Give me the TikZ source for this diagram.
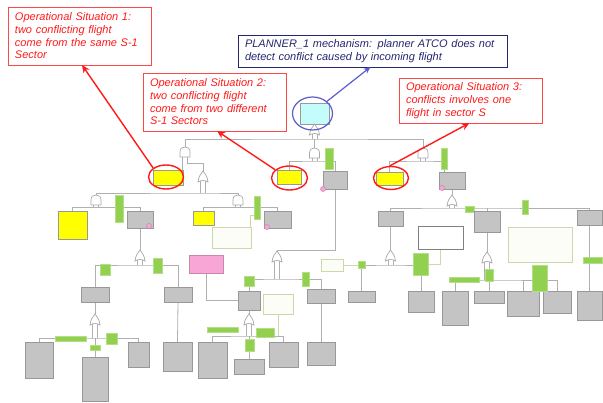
\documentclass[tikz,border=0pt]{standalone}
\usepackage{fontspec}
\setmainfont{Liberation Sans}
\usetikzlibrary{arrows.meta,shapes.geometric}
\pgfdeclarelayer{bg}
\pgfsetlayers{bg,main}
\definecolor{linec}{HTML}{B0B0B0}
\definecolor{gatec}{HTML}{A8A8A8}
\definecolor{gfill}{HTML}{C4C4C4}
\definecolor{gdraw}{HTML}{989898}
\definecolor{yfill}{HTML}{FFFF00}
\definecolor{grfill}{HTML}{92D050}
\definecolor{grdraw}{HTML}{B4DE88}
\definecolor{nfill}{HTML}{FCFDF7}
\definecolor{ndraw}{HTML}{CBD7AC}
\definecolor{pfill}{HTML}{F8A6D6}
\definecolor{pdraw}{HTML}{C987AE}
\definecolor{cfill}{HTML}{C4FCFC}
\definecolor{osred}{HTML}{FF1A1A}
\definecolor{navy}{HTML}{262670}
\definecolor{bluel}{HTML}{5C5CD0}
\newcommand\bx[6]{\node[#2, minimum width={#5-#3}, minimum height={#6-#4}] (#1) at ({(#3+#5)/2},{(#4+#6)/2}) {};}
\begin{document}
\begin{tikzpicture}[x=1pt,y=-1pt,
 ln/.style={draw=linec, line width=0.8pt},
 nln/.style={draw=ndraw, line width=0.8pt},
 basebox/.style={rectangle, inner sep=0pt, outer sep=0pt, line width=0.6pt},
 gbox/.style={basebox, draw=gdraw, fill=gfill},
 ybox/.style={basebox, draw=gdraw, fill=yfill},
 grbox/.style={basebox, draw=grdraw, fill=grfill},
 nbox/.style={basebox, draw=ndraw, fill=nfill},
 nboxd/.style={basebox, draw=gray, fill=white},
 pbox/.style={basebox, draw=pdraw, fill=pfill},
 cbox/.style={basebox, draw=gdraw, fill=cfill},
 pdot/.style={circle, inner sep=0pt, minimum size=5pt, draw=pdraw, fill=pfill, line width=0.5pt},
 redell/.style={ellipse, draw=osred, line width=1.4pt, inner sep=0pt},
 blueell/.style={ellipse, draw=bluel, line width=1.2pt, inner sep=0pt},
 osbox/.style={rectangle, draw=osred!80, line width=0.9pt, text=osred, font=\fontsize{11}{12.7}\selectfont\itshape, align=left, inner xsep=7pt, inner ysep=0pt, outer sep=0pt},
 plbox/.style={osbox, draw=navy, text=navy},
 redarr/.style={draw=osred, line width=1.4pt, -{Stealth[length=8pt,width=7pt]}},
 bluearr/.style={draw=bluel, line width=1.2pt, -{Stealth[length=7pt,width=6pt]}},
 gatepath/.style={draw=gatec, fill=white, line width=0.7pt},
 andg/.pic={
   \path[gatepath] (-5,5) -- (-5,0) .. controls (-5,-3.5) and (-2.8,-5) .. (0,-5) .. controls (2.8,-5) and (5,-3.5) .. (5,0) -- (5,5) -- cycle;
   \coordinate (-top) at (0,-5); \coordinate (-l) at (-2.5,5); \coordinate (-r) at (2.5,5);},
 org/.pic={
   \path[gatepath] (-5,5) .. controls (-4.5,0) and (-2.5,-3) .. (0,-6) .. controls (2.5,-3) and (4.5,0) .. (5,5) .. controls (2,3) and (-2,3) .. (-5,5) -- cycle;
   \coordinate (-top) at (0,-6); \coordinate (-l) at (-2.5,4); \coordinate (-r) at (2.5,4);}
]
\useasboundingbox (0,0) rectangle (603,403);

% annotation boxes
\node[osbox, text width=129, minimum height=58] (OS1) at (79.5,36) {Operational Situation 1:\\two conflicting flight\\come from the same S-1\\Sector};
\node[osbox, text width=129, minimum height=58] (OS2) at (214.5,102) {Operational Situation 2:\\two conflicting flight\\come from two different\\S-1 Sectors};
\node[osbox, text width=129, minimum height=45] (OS3) at (470.5,100.5) {Operational Situation 3:\\conflicts involves one\\flight in sector S};
\node[plbox, text width=255, minimum height=32] (PL) at (372.5,51) {PLANNER\_1 mechanism: planner ATCO does not\\detect conflict caused by incoming flight};

% events
\bx{T}{cbox}{300}{103}{329}{124}
\bx{Y1}{ybox}{153}{170}{183}{185}
\bx{Y2}{ybox}{58}{211}{87}{239}
\bx{B1}{gbox}{127}{211}{153}{228}
\bx{GR1}{grbox}{115}{195}{123}{222}
\bx{Y3}{ybox}{193}{211}{214}{225}
\bx{B2}{gbox}{264}{211}{291}{228}
\bx{GR2}{grbox}{254}{196}{260}{219}
\bx{N1}{nbox}{212}{227}{251}{248}
\bx{Y4}{ybox}{277}{170}{301}{184}
\bx{B3}{gbox}{323}{171}{347}{189}
\bx{GR3}{grbox}{325}{148}{333}{169}
\bx{Y5}{ybox}{376}{172}{403}{185}
\bx{B4}{gbox}{439}{172}{465}{189}
\bx{GR4}{grbox}{441}{148}{447}{169}
\bx{B5}{gbox}{378}{211}{403}{226}
\bx{GR5}{grbox}{465}{206}{474}{212}
\bx{B6}{gbox}{474}{211}{500}{232}
\bx{GR6}{grbox}{522}{200}{528}{214}
\bx{B7}{gbox}{577}{210}{602}{225}
\bx{N2}{nboxd}{418}{226}{463}{249}
\bx{N3}{nbox}{508}{227}{572}{262}
\bx{B8}{gbox}{81}{287}{109}{302}
\bx{B9}{gbox}{164}{287}{192}{302}
\bx{B10}{gbox}{163}{342}{192}{371}
\bx{GR7}{grbox}{100}{264}{110}{275}
\bx{GR8}{grbox}{153}{258}{162}{273}
\bx{B11}{gbox}{25}{342}{53}{378}
\bx{B12}{gbox}{82}{357}{108}{401}
\bx{B13}{gbox}{128}{342}{149}{367}
\bx{GR9}{grbox}{55}{336}{86}{341}
\bx{GR10}{grbox}{90}{345}{100}{350}
\bx{GR11}{grbox}{106}{333}{117}{344}
\bx{P1}{pbox}{189}{255}{223}{273}
\bx{B14}{gbox}{238}{291}{260}{310}
\bx{B15}{gbox}{307}{289}{335}{303}
\bx{GR12}{grbox}{244}{276}{254}{286}
\bx{GR13}{grbox}{302}{272}{309}{286}
\bx{B16}{gbox}{198}{342}{227}{378}
\bx{B17}{gbox}{234}{359}{264}{374}
\bx{B18}{gbox}{269}{342}{298}{367}
\bx{GR14}{grbox}{207}{327}{238}{332}
\bx{GR15}{grbox}{245}{339}{254}{351}
\bx{GR16}{grbox}{256}{328}{274}{337}
\bx{N4}{nbox}{263}{294}{293}{314}
\bx{B19}{gbox}{307}{342}{335}{365}
\bx{B20}{gbox}{348}{291}{375}{302}
\bx{B21}{gbox}{408}{291}{434}{312}
\bx{GR17}{grbox}{358}{261}{365}{268}
\bx{GR18}{grbox}{413}{253}{428}{275}
\bx{N5}{nbox}{321}{259}{343}{271}
\bx{B22}{gbox}{442}{291}{468}{325}
\bx{B23}{gbox}{474}{291}{504}{303}
\bx{B24}{gbox}{507}{291}{539}{316}
\bx{B25}{gbox}{543}{291}{571}{313}
\bx{GR19}{grbox}{449}{277}{479}{282}
\bx{GR20}{grbox}{485}{269}{493}{281}
\bx{GR21}{grbox}{532}{265}{547}{291}
\bx{GR22}{grbox}{583}{257}{602}{263}
\bx{B26}{gbox}{577}{291}{602}{320}

\node[pdot] (C1) at (149,226) {};
\node[pdot] (C2) at (267,227) {};
\node[pdot] (C3) at (323,189) {};
\node[pdot] (C4) at (442,188) {};

% gates
\pic (g0) at (314.5,130) {org};
\pic (g1) at (185,152) {andg};
\pic (g2) at (314.5,153) {andg};
\pic (g3) at (423,153) {andg};
\pic (g4) at (203,177) {org};
\pic (g5) at (96,200) {andg};
\pic (g6) at (238,200) {andg};
\pic (g7) at (277,257) {org};
\pic (g8) at (452,201) {org};
\pic (g9) at (140,256) {org};
\pic (g10) at (95,320) {org};
\pic (g11) at (249,320) {org};
\pic (g12) at (390.5,256) {org};
\pic (g13) at (487,258) {org};

% bar coordinates
\coordinate (b0) at (314.5,139);
\coordinate (b4) at (203,193);
\coordinate (b5) at (96,207.5);
\coordinate (b6) at (238,207.5);
\coordinate (b2) at (314.5,161);
\coordinate (b3) at (423,161);
\coordinate (c4) at (444,172);
\coordinate (c37) at (335,250);
\coordinate (b8) at (452,208);
\coordinate (b12) at (390.5,265);
\coordinate (b13) at (487,280);
\coordinate (b9) at (140,265);
\coordinate (b10) at (95,338);
\coordinate (b7) at (277,279);
\coordinate (b11) at (249,336);
\coordinate (n1a) at (250,215);
\coordinate (n4e) at (278,336);

\begin{pgfonlayer}{bg}
\fill[white] (0,0) rectangle (603,403);
\draw[ln] (T.south) -- (g0-top);
\foreach \g/\b in {g0/b0,g4/b4,g5/b5,g6/b6,g2/b2,g3/b3,g8/b8,g12/b12,g13/b13,g9/b9,g10/b10,g7/b7,g11/b11}{
  \draw[ln] (\g-l) -- (\g-l |- \b);
  \draw[ln] (\g-r) -- (\g-r |- \b);
}
\draw[ln] (g1-top) |- (b0) -| (g3-top);
\draw[ln] (b0) -- (g2-top);
\draw[ln] (g1-l) -- (g1-l |- Y1.north);
\draw[ln] (g1-r) -- ++(0,6) -| (g4-top);
\draw[ln] (g5-top) |- (b4) -| (g6-top);
\draw[ln] (Y2.north) |- (b5) -| (B1.north);
\draw[ln] (Y3.north) |- (b6) -| (B2.north);
\draw[nln] (N1.north east -| n1a) -- (n1a) -- (n1a -| GR2.west);
\draw[ln] (Y4.north) |- (b2) -| (B3.north);
\draw[ln] (Y5.north) |- (b3) -| (c4);
\draw[ln] (B3.south) -- (c37) -| (g7-top);
\draw[ln] (B4.south) -- (g8-top);
\draw[ln] (B5.north) |- (b8) -| (B7.north);
\draw[ln] (b8 -| B6.north) -- (B6.north);
\draw[ln] (B5.south) -- (g12-top);
\draw[ln] (B20.north) |- (b12) -| (B21.north);
\draw[nln] (N5.east) -- (N5.east -| B20.north);
\draw[nln] (N2.south) |- (GR18.east);
\draw[ln] (B6.south) -- (g13-top);
\draw[ln] (B22.north) |- (b13) -| (B25.north);
\draw[ln] (b13 -| B23.north) -- (B23.north);
\draw[ln] (b13 -| B24.north) -- (B24.north);
\draw[ln] (B7.south) -- (B26.north);
\draw[ln] (B1.south) -- (g9-top);
\draw[ln] (B8.north) |- (b9) -| (B9.north);
\draw[ln] (B9.south) -- (B10.north);
\draw[ln] (B8.south) -- (g10-top);
\draw[ln] (B11.north) |- (b10) -| (B13.north);
\draw[ln] (b10) -- (B12.north);
\draw[ln] (B14.north) |- (b7) -| (B15.north);
\draw[ln] (P1.south) |- (B14.west);
\draw[ln] (B14.south) -- (g11-top);
\draw[ln] (B16.north) |- (b11) -| (B18.north);
\draw[ln] (b11) -- (B17.north);
\draw[nln] (N4.south) -- (n4e);
\draw[ln] (B15.south) -- (B19.north);
\end{pgfonlayer}

% highlight ellipses and arrows
\node[redell, minimum width=35, minimum height=24] (R1) at (166,177) {};
\node[redell, minimum width=36, minimum height=24] (R2) at (289.5,178) {};
\node[redell, minimum width=35, minimum height=23] (R3) at (391,178) {};
\node[blueell, minimum width=40, minimum height=33] (E0) at (312.5,113.5) {};
\draw[redarr] (R1.north west) -- ([xshift=2.5pt]OS1.south);
\draw[redarr] (R2.150) -- ([xshift=2.5pt]OS2.south);
\draw[redarr] (R3.95) -- ([xshift=-1pt]OS3.south);
\draw[bluearr] (E0.40) -- ([xshift=-2pt]PL.south);
\end{tikzpicture}
\end{document}
